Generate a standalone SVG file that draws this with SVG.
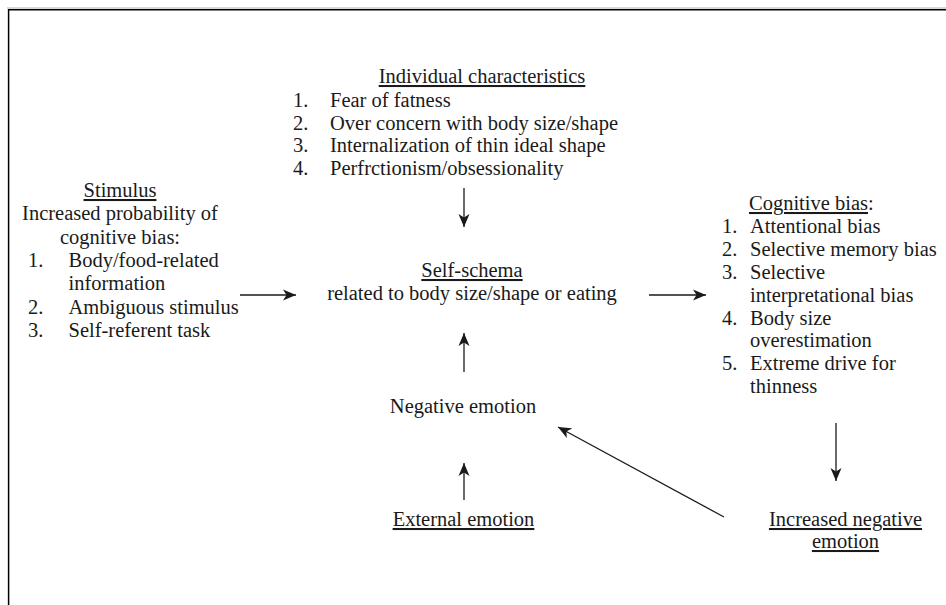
<svg xmlns="http://www.w3.org/2000/svg" width="946" height="605" viewBox="0 0 946 605">
<style>
  text { font-family: "Liberation Serif", "Times New Roman", serif; font-size: 20.5px; fill: #1a1a1a; }
  .c { text-anchor: middle; }
  .u { text-decoration: underline; }
  .conn { stroke: #1a1a1a; stroke-width: 1.3; fill: none; }
</style>
<defs>
  <marker id="ah" markerUnits="userSpaceOnUse" markerWidth="14" markerHeight="12" refX="13" refY="6" orient="auto">
    <path d="M0,0.5 L13,6 L0,11.5 L3.5,6 Z" fill="#1a1a1a"/>
  </marker>
</defs>
<rect x="0" y="0" width="946" height="605" fill="#ffffff"/>
<g id="frame">
  <line x1="7" y1="8" x2="946" y2="8" stroke="#b0b0b0" stroke-width="1"/>
  <path d="M8.6,605 V9.8 H946" stroke="#000" stroke-width="1.5" fill="none"/>
</g>
<g id="individual">
  <text class="c u" x="482" y="83">Individual characteristics</text>
  <text x="293" y="107">1.</text><text x="330" y="107">Fear of fatness</text>
  <text x="293" y="129.5">2.</text><text x="330" y="129.5">Over concern with body size/shape</text>
  <text x="293" y="152">3.</text><text x="330" y="152">Internalization of thin ideal shape</text>
  <text x="293" y="174.5">4.</text><text x="330" y="174.5">Perfrctionism/obsessionality</text>
</g>
<g id="stimulus">
  <text class="c u" x="120" y="197">Stimulus</text>
  <text class="c" x="120" y="220.3">Increased probability of</text>
  <text class="c" x="120" y="243.6">cognitive bias:</text>
  <text x="28" y="267">1.</text><text x="68.5" y="267">Body/food-related</text>
  <text x="68.5" y="290.2">information</text>
  <text x="28" y="313.5">2.</text><text x="68.5" y="313.5">Ambiguous stimulus</text>
  <text x="28" y="336.8">3.</text><text x="68.5" y="336.8">Self-referent task</text>
</g>
<g id="selfschema">
  <text class="c u" x="472" y="277">Self-schema</text>
  <text class="c" x="472" y="300">related to body size/shape or eating</text>
</g>
<g id="cognitive">
  <text x="749" y="210"><tspan class="u">Cognitive bias</tspan>:</text>
  <text x="722" y="233">1.</text><text x="750" y="233">Attentional bias</text>
  <text x="722" y="256">2.</text><text x="750" y="256">Selective memory bias</text>
  <text x="722" y="278.5">3.</text><text x="750" y="278.5">Selective</text>
  <text x="750" y="301.5">interpretational bias</text>
  <text x="722" y="324.5">4.</text><text x="750" y="324.5">Body size</text>
  <text x="750" y="347">overestimation</text>
  <text x="722" y="370">5.</text><text x="750" y="370">Extreme drive for</text>
  <text x="750" y="393">thinness</text>
</g>
<g id="negative">
  <text class="c" x="463" y="413">Negative emotion</text>
</g>
<g id="external">
  <text class="c u" x="463.5" y="526">External emotion</text>
</g>
<g id="increased">
  <text class="c u" x="845.5" y="526">Increased negative</text>
  <text class="c u" x="845.5" y="548">emotion</text>
</g>
<g id="connectors">
  <line class="conn" x1="464" y1="188" x2="464" y2="227" marker-end="url(#ah)"/>
  <line class="conn" x1="240" y1="295" x2="296" y2="295" marker-end="url(#ah)"/>
  <line class="conn" x1="649" y1="295" x2="706" y2="295" marker-end="url(#ah)"/>
  <line class="conn" x1="464" y1="372" x2="464" y2="333" marker-end="url(#ah)"/>
  <line class="conn" x1="464" y1="500" x2="464" y2="463" marker-end="url(#ah)"/>
  <line class="conn" x1="836" y1="423" x2="836" y2="481" marker-end="url(#ah)"/>
  <line class="conn" x1="724" y1="517" x2="558" y2="427" marker-end="url(#ah)"/>
</g>
</svg>
